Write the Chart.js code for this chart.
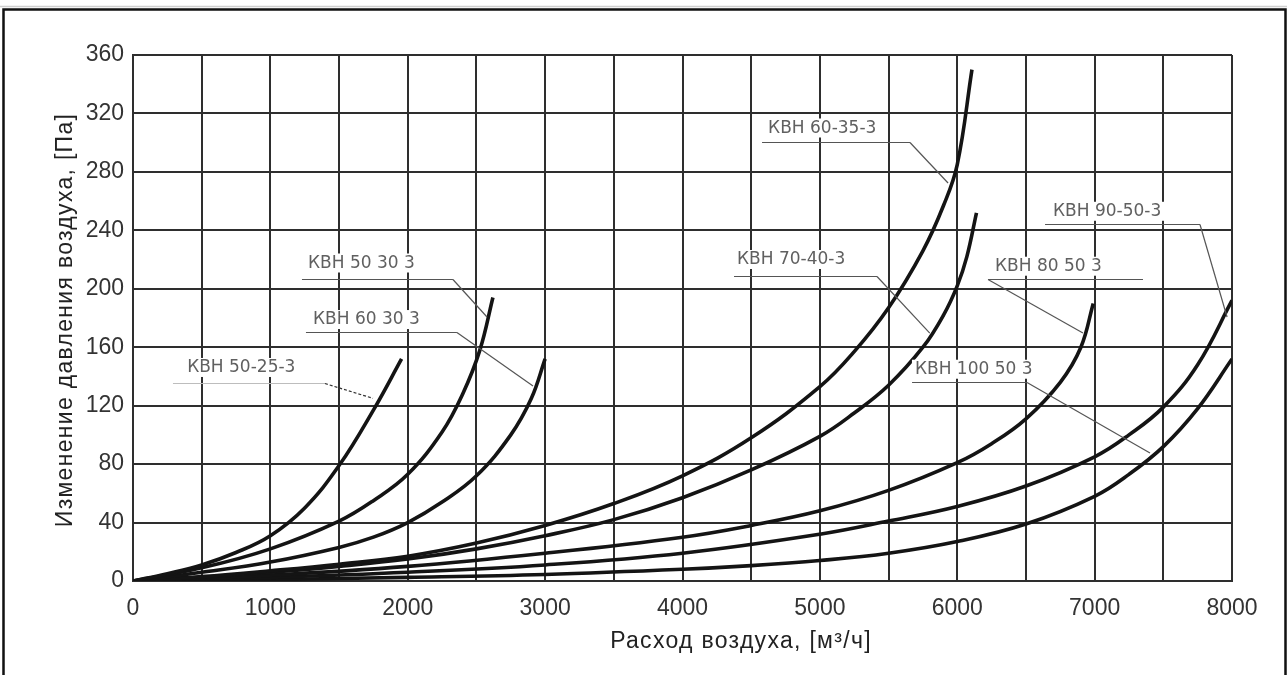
<!DOCTYPE html>
<html><head><meta charset="utf-8">
<script src="https://cdn.jsdelivr.net/npm/chart.js@4.4.0/dist/chart.umd.min.js"></script>
<style>html,body{margin:0;padding:0;background:#fff;overflow:hidden}#wrap{width:1287px;height:675px;position:relative}canvas{display:block}</style>
</head><body><div id="wrap"><canvas id="c" width="1287" height="675"></canvas></div>
<script>
// ---- data ----
const seriesNames = ['КВН 50-25-3','КВН 50-30-3','КВН 60-30-3','КВН 60-35-3','КВН 70-40-3','КВН 80-50-3','КВН 90-50-3','КВН 100-50-3'];
const flow_50_25 = [0, 250, 500, 750, 1000, 1250, 1500, 1750, 1955];
const dp_50_25   = [0, 5, 11, 19.5, 31, 50, 79, 117, 152];
const flow_50_30 = [0, 500, 1000, 1500, 1750, 2000, 2250, 2400, 2525, 2620];
const dp_50_30   = [0, 9, 22, 41, 55, 73, 102, 128, 158, 194];
const flow_60_30 = [0, 500, 1000, 1500, 1750, 2000, 2250, 2500, 2750, 2900, 3000];
const dp_60_30   = [0, 6, 13, 23, 30, 40, 54, 72, 100, 125, 152];
const flow_60_35 = [0, 500, 1000, 1500, 2000, 2500, 3000, 3500, 4000, 4500, 5000, 5250, 5500, 5750, 5900, 6000, 6107];
const dp_60_35   = [0, 3, 7, 11.5, 17, 26, 38, 53, 72, 98, 133, 157, 187, 226, 257, 285, 350];
const flow_70_40 = [0, 500, 1000, 1500, 2000, 2500, 3000, 3500, 4000, 4500, 5000, 5250, 5500, 5750, 5900, 6000, 6070, 6140];
const dp_70_40   = [0, 2.5, 6, 10, 15, 22, 31, 42, 57, 76, 99, 115, 134, 160, 182, 202, 222, 252];
const flow_80_50 = [0, 1000, 2000, 3000, 4000, 4500, 5000, 5500, 6000, 6250, 6500, 6750, 6900, 6990];
const dp_80_50   = [0, 4, 10, 19, 30, 38, 48, 62, 81, 94, 111, 136, 160, 190];
const flow_90_50 = [0, 1000, 2000, 3000, 4000, 5000, 5500, 6000, 6500, 7000, 7250, 7500, 7750, 8000];
const dp_90_50   = [0, 2.5, 6, 11, 19, 32, 41, 51, 65, 85, 100, 119, 148, 192];
const flow_100_50 = [0, 1000, 2000, 3000, 4000, 4500, 5000, 5500, 6000, 6500, 7000, 7250, 7500, 7750, 8000];
const dp_100_50   = [0, 1, 2.5, 4.5, 8, 10.5, 14, 19, 27, 39, 58, 73, 92, 118, 152];

const xTicks = [0, 500, 1000, 1500, 2000, 2500, 3000, 3500, 4000, 4500, 5000, 5500, 6000, 6500, 7000, 7500, 8000];
const xTickLabels = ['0','','1000','','2000','','3000','','4000','','5000','','6000','','7000','','8000'];
const yTicks = [0, 40, 80, 120, 160, 200, 240, 280, 320, 360];
const yTickLabels = ['0','40','80','120','160','200','240','280','320','360'];

const xTitle = 'Расход воздуха, [м³/ч]';
const yTitle = 'Изменение давления воздуха, [Па]';

// callout labels (text, then anchor points in data units)
const calloutText = ['КВН 50-25-3','КВН 50 30 3','КВН 60 30 3','КВН 60-35-3','КВН 70-40-3','КВН 80 50 3','КВН 90-50-3','КВН 100 50 3'];
const callouts = [
  {tx: 394,  ty: 145.8, ly: 135.5, x1: 291,  x2: 1397, ex: 1747, ey: 125,   fromLeft: false, dashed: true},
  {tx: 1274, ty: 217.3, ly: 206.7, x1: 1230, x2: 2329, ex: 2577, ey: 180.7, fromLeft: false},
  {tx: 1310, ty: 178.6, ly: 170.4, x1: 1259, x2: 2358, ex: 2912, ey: 133.5, fromLeft: false},
  {tx: 4623, ty: 309.7, ly: 300.5, x1: 4579, x2: 5656, ex: 5933, ey: 272.4, fromLeft: false},
  {tx: 4397, ty: 219.7, ly: 208.7, x1: 4375, x2: 5416, ex: 5800, ey: 169.7, fromLeft: false},
  {tx: 6275, ty: 215.1, ly: 206.7, x1: 6224, x2: 7352, ex: 6915, ey: 169.7, fromLeft: true},
  {tx: 6697, ty: 252.7, ly: 244.3, x1: 6639, x2: 7767, ex: 7964, ey: 180.7, fromLeft: false},
  {tx: 5692, ty: 144.6, ly: 136.2, x1: 5671, x2: 6508, ex: 7403, ey: 87.6,  fromLeft: false}
];

const flows = [flow_50_25, flow_50_30, flow_60_30, flow_60_35, flow_70_40, flow_80_50, flow_90_50, flow_100_50];
const dps   = [dp_50_25, dp_50_30, dp_60_30, dp_60_35, dp_70_40, dp_80_50, dp_90_50, dp_100_50];

const datasets = seriesNames.map((name, i) => ({
  label: name,
  data: flows[i].map((f, j) => ({x: f, y: dps[i][j]})),
  showLine: true,
  borderColor: '#141414',
  borderWidth: 3.6,
  pointRadius: 0,
  pointHoverRadius: 0,
  tension: 0.4,
  fill: false
}));

const framePlugin = {
  id: 'frame',
  beforeDraw(chart) {
    const ctx = chart.ctx;
    ctx.save();
    ctx.strokeStyle = '#cfcfcf';
    ctx.lineWidth = 1.5;
    ctx.beginPath(); ctx.moveTo(0, 6.5); ctx.lineTo(1287, 6.5); ctx.stroke();
    ctx.strokeStyle = '#111';
    ctx.lineWidth = 2.5;
    ctx.beginPath();
    ctx.moveTo(3.5, 700); ctx.lineTo(3.5, 9.5); ctx.lineTo(1285.5, 9.5); ctx.lineTo(1285.5, 700);
    ctx.stroke();
    ctx.restore();
  }
};

const calloutPlugin = {
  id: 'callouts',
  afterDatasetsDraw(chart) {
    const ctx = chart.ctx, xs = chart.scales.x, ys = chart.scales.y;
    ctx.save();
    ctx.font = '17px "DejaVu Sans"';
    ctx.textBaseline = 'middle';
    ctx.textAlign = 'left';
    callouts.forEach((c, i) => {
      const tx = xs.getPixelForValue(c.tx), ty = ys.getPixelForValue(c.ty);
      const w = ctx.measureText(calloutText[i]).width;
      ctx.fillStyle = '#fff';
      ctx.fillRect(tx - 3, ty - 10, w + 6, 19);
      ctx.fillStyle = '#606060';
      ctx.fillText(calloutText[i], tx, ty);
      const ly = Math.round(ys.getPixelForValue(c.ly)) + 0.5;
      const x1 = xs.getPixelForValue(c.x1), x2 = xs.getPixelForValue(c.x2);
      const ex = xs.getPixelForValue(c.ex), ey = ys.getPixelForValue(c.ey);
      ctx.lineWidth = 1.2;
      ctx.strokeStyle = c.dashed ? '#bdbdbd' : '#555';
      ctx.setLineDash([]);
      ctx.beginPath(); ctx.moveTo(x1, ly); ctx.lineTo(x2, ly); ctx.stroke();
      ctx.strokeStyle = c.dashed ? '#333' : '#555';
      if (c.dashed) ctx.setLineDash([3, 2]);
      ctx.beginPath();
      ctx.moveTo(c.fromLeft ? x1 : x2, ly);
      ctx.lineTo(ex, ey);
      ctx.stroke();
      ctx.setLineDash([]);
    });
    ctx.restore();
  }
};

const titlePlugin = {
  id: 'axisTitles',
  afterDraw(chart) {
    const ctx = chart.ctx;
    ctx.save();
    ctx.font = '23px "Liberation Sans"';
    ctx.fillStyle = '#222';
    ctx.letterSpacing = '1.3px';
    ctx.textAlign = 'center';
    ctx.textBaseline = 'alphabetic';
    ctx.fillText(xTitle, 741, 648);
    ctx.translate(72, 320);
    ctx.rotate(-Math.PI / 2);
    ctx.fillText(yTitle, 0, 0);
    ctx.restore();
  }
};

const gridColor = '#2e2e2e';
new Chart(document.getElementById('c'), {
  type: 'scatter',
  data: {datasets},
  options: {
    responsive: false,
    animation: false,
    devicePixelRatio: 1,
    layout: {padding: {left: 0, right: 55, top: 55, bottom: 0}},
    plugins: {legend: {display: false}, tooltip: {enabled: false}},
    scales: {
      x: {
        type: 'linear', min: 0, max: 8000,
        afterBuildTicks(s) { s.ticks = xTicks.map(v => ({value: v})); },
        afterFit(s) { s.height = 94; },
        ticks: {
          autoSkip: false, maxRotation: 0,
          callback(v) { const k = xTicks.indexOf(v); return k >= 0 ? xTickLabels[k] : ''; },
          font: {family: '"Liberation Sans"', size: 23}, color: '#333', padding: 14
        },
        grid: {color: gridColor, lineWidth: 2, drawTicks: false},
        border: {color: gridColor, width: 2}
      },
      y: {
        type: 'linear', min: 0, max: 360,
        afterBuildTicks(s) { s.ticks = yTicks.map(v => ({value: v})); },
        afterFit(s) { s.width = 133; },
        ticks: {
          autoSkip: false,
          callback(v) { const k = yTicks.indexOf(v); return k >= 0 ? yTickLabels[k] : ''; },
          font: {family: '"Liberation Sans"', size: 23}, color: '#333', padding: 9
        },
        grid: {color: gridColor, lineWidth: 2, drawTicks: false},
        border: {color: gridColor, width: 2}
      }
    }
  },
  plugins: [framePlugin, calloutPlugin, titlePlugin]
});
</script>
</body></html>
